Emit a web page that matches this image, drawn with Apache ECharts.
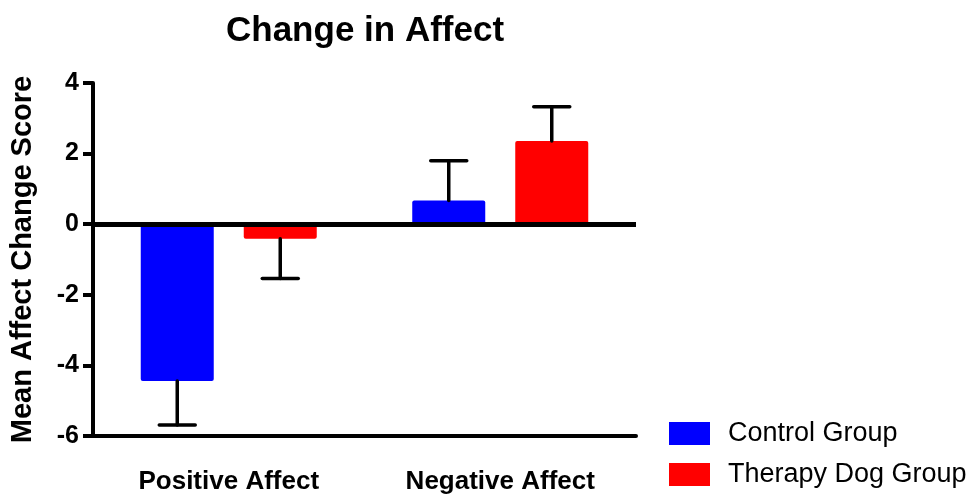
<!DOCTYPE html>
<html>
<head>
<meta charset="utf-8">
<script src="https://cdn.jsdelivr.net/npm/echarts@6/dist/echarts.min.js"></script>
<style>
  html, body { margin: 0; padding: 0; background: #fff; }
  #chart { width: 975px; height: 495px; }
</style>
</head>
<body>
<div id="chart"></div>
<script>
// 数据
const categories = ['Positive Affect', 'Negative Affect']
const groupNames = ['Control Group', 'Therapy Dog Group']
const controlMeans = [-4.44, 0.67]
const dogMeans = [-0.41, 2.36]
const controlErr = [1.25, 1.13]
const dogErr = [1.13, 0.97]

const FONT = '"Liberation Sans", Arial, sans-serif'
const BAR_W = 73
const BAR_GAP = 30

const chart = echarts.init(document.getElementById('chart'))

// 误差线 (only the side away from zero)
function errorSeries(name, means, errs, side) {
  const data = means.map((m, i) => [i, m, errs[i]])
  return {
    type: 'custom',
    name: name,
    z: 5,
    silent: true,
    data: data,
    renderItem: function (params, api) {
      const i = api.value(0)
      const m = api.value(1)
      const e = api.value(2)
      const end = m < 0 ? m - e : m + e
      const off = side * (BAR_W + BAR_GAP) / 2
      const p0 = api.coord([i, m])
      const p1 = api.coord([i, end])
      const x = p0[0] + off
      const style = { stroke: '#000', lineWidth: 3.5, lineCap: 'round' }
      return {
        type: 'group',
        children: [
          { type: 'line', shape: { x1: x, y1: p0[1], x2: x, y2: p1[1] }, style: style },
          { type: 'line', shape: { x1: x - 18, y1: p1[1], x2: x + 18, y2: p1[1] }, style: style }
        ]
      }
    }
  }
}

const option = {
  animation: false,
  backgroundColor: '#fff',
  textStyle: { fontFamily: FONT },
  title: {
    text: 'Change in Affect',
    left: 221,
    top: 9,
    textStyle: { fontFamily: FONT, fontSize: 35, fontWeight: 'bold', color: '#000' }
  },
  legend: {
    orient: 'vertical',
    left: 669,
    top: 420,
    padding: 0,
    itemWidth: 41,
    itemHeight: 23,
    itemGap: 14,
    icon: 'rect',
    data: groupNames,
    textStyle: { fontFamily: FONT, fontSize: 27, lineHeight: 23, color: '#000', padding: [0, 0, 0, 13] }
  },
  grid: { left: 90, right: 339, top: 83, bottom: 58 },
  xAxis: {
    type: 'category',
    data: categories,
    axisLine: { onZero: false, lineStyle: { color: '#000', width: 4 } },
    axisTick: { show: false },
    axisLabel: { margin: 33, fontFamily: FONT, fontSize: 26, fontWeight: 'bold', color: '#000' }
  },
  yAxis: {
    type: 'value',
    min: -6,
    max: 4,
    interval: 2,
    name: 'Mean Affect Change Score',
    nameLocation: 'middle',
    nameGap: 56,
    nameTextStyle: { fontFamily: FONT, fontSize: 29, fontWeight: 'bold', color: '#000' },
    axisLine: { show: true, lineStyle: { color: '#000', width: 4 } },
    axisTick: { show: true, length: 10, lineStyle: { color: '#000', width: 4 } },
    axisLabel: { margin: 14, fontFamily: FONT, fontSize: 25, fontWeight: 'bold', color: '#000' },
    splitLine: { show: false }
  },
  series: [
    {
      type: 'bar',
      name: groupNames[0],
      data: controlMeans,
      barWidth: BAR_W,
      barGap: (BAR_GAP / BAR_W * 100).toFixed(1) + '%',
      itemStyle: { color: '#0000ff', borderRadius: 2 },
      markLine: {
        silent: true,
        symbol: ['none', 'none'],
        label: { show: false },
        lineStyle: { color: '#000', width: 5, type: 'solid' },
        data: [{ yAxis: 0 }]
      }
    },
    {
      type: 'bar',
      name: groupNames[1],
      data: dogMeans,
      barWidth: BAR_W,
      itemStyle: { color: '#ff0000', borderRadius: 2 }
    },
    errorSeries('err0', controlMeans, controlErr, -1),
    errorSeries('err1', dogMeans, dogErr, 1)
  ]
}
chart.setOption(option)
</script>
</body>
</html>
